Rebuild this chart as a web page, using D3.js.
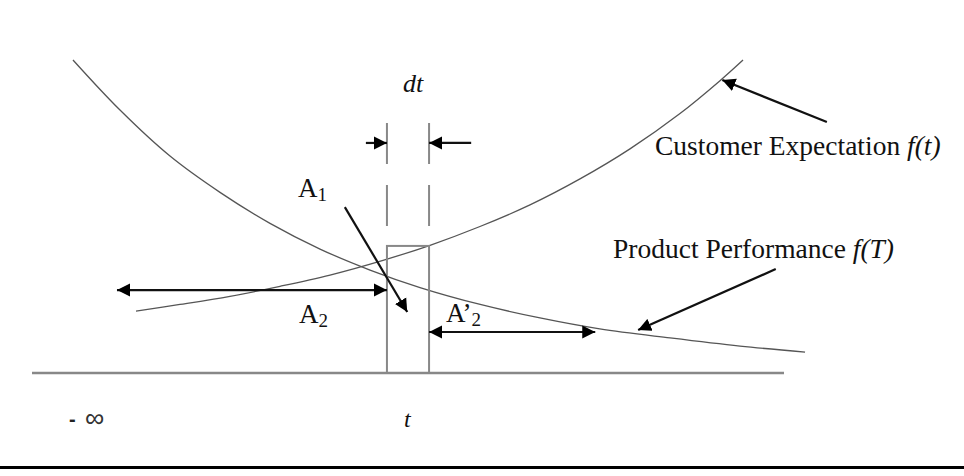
<!DOCTYPE html>
<html>
<head>
<meta charset="utf-8">
<script src="https://cdn.jsdelivr.net/npm/d3@7"></script>
<style>
  body { margin: 0; background: #fff; }
  svg text { font-family: "Liberation Serif", "Times New Roman", serif; fill: #111; }
</style>
</head>
<body>
<div id="chart"></div>
<script>
// Curve data (abstract units: x = time axis 0..100, y = density 0..100)
const perfX = [5.45, 11.7, 18.35, 25.0, 31.65, 38.3, 44.95, 51.6, 59.6, 67.55, 75.5, 84.85, 94.15, 102.8];
const perfY = [100, 84.0, 69.3, 57.7, 47.8, 39.6, 32.9, 27.3, 21.9, 17.6, 14.1, 11.2, 8.6, 6.7];
const expX = [13.83, 19.68, 26.33, 32.98, 39.63, 46.68, 52.93, 59.57, 66.22, 72.87, 79.52, 86.17, 91.49, 94.55];
const expY = [19.8, 21.9, 24.5, 27.7, 31.3, 36.0, 40.8, 46.8, 53.7, 62.0, 71.6, 82.9, 93.4, 100];

// Strip at t, width dt
const tValue = 47.2;
const dtValue = 5.6;
const stripTop = 40.6;

// Labels
const perfLabel = "Product Performance ";
const expLabel = "Customer Expectation ";

const width = 964, height = 476;

const svg = d3.select("#chart")
              .append("svg")
              .attr("width", width)
              .attr("height", height);

// Scales
const x = d3.scaleLinear().domain([0, 100]).range([32, 784]);
const y = d3.scaleLinear().domain([0, 100]).range([373, 60]);

// Arrowhead marker
svg.append("defs").append("marker")
   .attr("id", "head")
   .attr("markerUnits", "userSpaceOnUse")
   .attr("viewBox", "0 0 14 14")
   .attr("markerWidth", 14)
   .attr("markerHeight", 14)
   .attr("refX", 13)
   .attr("refY", 7)
   .attr("orient", "auto-start-reverse")
   .append("path")
   .attr("d", "M0,0.5 L13,7 L0,13.5 Z")
   .attr("fill", "#000");

// Baseline
svg.append("line")
   .attr("x1", x(0)).attr("x2", x(100))
   .attr("y1", y(0)).attr("y2", y(0))
   .attr("stroke", "#888")
   .attr("stroke-width", 2.5);

// Curves
const line = d3.line()
               .x(d => x(d[0]))
               .y(d => y(d[1]))
               .curve(d3.curveCatmullRom);

svg.append("path")
   .datum(perfX.map((v, i) => [v, perfY[i]]))
   .attr("d", line)
   .attr("fill", "none")
   .attr("stroke", "#555")
   .attr("stroke-width", 1.3);

svg.append("path")
   .datum(expX.map((v, i) => [v, expY[i]]))
   .attr("d", line)
   .attr("fill", "none")
   .attr("stroke", "#555")
   .attr("stroke-width", 1.3);

// Strip at t
svg.append("rect")
   .attr("x", x(tValue))
   .attr("y", y(stripTop))
   .attr("width", x(tValue + dtValue) - x(tValue))
   .attr("height", y(0) - y(stripTop))
   .attr("fill", "none")
   .attr("stroke", "#888")
   .attr("stroke-width", 2);

// Dashed guides for dt
[tValue, tValue + dtValue].forEach(v => {
    svg.append("line")
       .attr("x1", x(v)).attr("x2", x(v))
       .attr("y1", y(79.9)).attr("y2", y(stripTop))
       .attr("stroke", "#888")
       .attr("stroke-width", 2)
       .attr("stroke-dasharray", "41,21");
});

// Arrow helper
function arrow(x1, y1, x2, y2, both) {
    const a = svg.append("line")
       .attr("x1", x(x1)).attr("y1", y(y1))
       .attr("x2", x(x2)).attr("y2", y(y2))
       .attr("stroke", "#111")
       .attr("stroke-width", 2.2)
       .attr("marker-end", "url(#head)");
    if (both) a.attr("marker-start", "url(#head)");
}

arrow(44.4, 73.5, tValue, 73.5, false);
arrow(58.4, 73.5, tValue + dtValue, 73.5, false);
arrow(11.3, 26.5, tValue, 26.5, true);
arrow(tValue + dtValue, 13.1, 74.9, 13.1, true);
arrow(41.6, 53.0, 49.9, 19.5, false);
arrow(105.7, 80.2, 91.8, 93.6, false);
arrow(98.9, 33.2, 80.6, 13.7, false);

// Text labels
svg.append("text")
   .attr("x", 403).attr("y", 92)
   .style("font-size", "26px")
   .style("font-style", "italic")
   .text("dt");

const ce = svg.append("text")
   .attr("x", 655).attr("y", 155)
   .style("font-size", "27.5px");
ce.append("tspan").text(expLabel);
ce.append("tspan").style("font-style", "italic").text("f(t)");

const pp = svg.append("text")
   .attr("x", 613).attr("y", 258)
   .style("font-size", "27.5px");
pp.append("tspan").text(perfLabel);
pp.append("tspan").style("font-style", "italic").text("f(T)");

function areaLabel(px, py, main, sub) {
    const t = svg.append("text")
       .attr("x", px).attr("y", py)
       .style("font-size", "27px");
    t.append("tspan").text(main);
    t.append("tspan").attr("dy", 4).style("font-size", "19px").text(sub);
}
areaLabel(298, 197, "A", "1");
areaLabel(299, 323, "A", "2");
areaLabel(446, 322, "A\u2019", "2");

// Minus infinity and t on the axis
svg.append("text")
   .attr("x", 69).attr("y", 426)
   .style("font-family", "'Liberation Sans', Arial, sans-serif")
   .style("font-size", "20px")
   .style("font-weight", "bold")
   .style("fill", "#222")
   .text("-");
svg.append("text")
   .attr("x", 85).attr("y", 427)
   .style("font-family", "'DejaVu Sans', sans-serif")
   .style("font-size", "27px")
   .style("font-weight", "200")
   .style("fill", "#333")
   .text("\u221E");

svg.append("text")
   .attr("x", 404).attr("y", 427)
   .style("font-size", "24px")
   .style("font-style", "italic")
   .text("t");

// Bottom rule
svg.append("line")
   .attr("x1", 0).attr("x2", width)
   .attr("y1", 467.5).attr("y2", 467.5)
   .attr("stroke", "#000")
   .attr("stroke-width", 3);
</script>
</body>
</html>
